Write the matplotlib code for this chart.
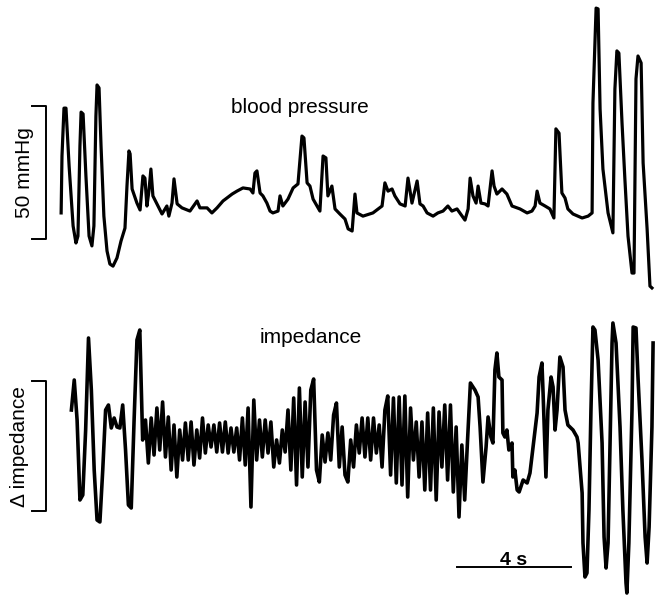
import numpy as np
import matplotlib
matplotlib.use("Agg")
import matplotlib.pyplot as plt

plt.rcParams['font.family'] = ['Liberation Sans', 'DejaVu Sans']

# blood pressure trace (time in s, pressure in mmHg)
bp_t = [0.04, 0.07, 0.14, 0.21, 0.32, 0.46, 0.56, 0.63, 0.70, 0.74, 0.81, 0.91, 1.02, 1.12, 1.19,
        1.26, 1.30, 1.37, 1.44, 1.54, 1.65, 1.75, 1.86, 2.00, 2.14, 2.28, 2.35, 2.42, 2.46, 2.53,
        2.70, 2.81, 2.91, 2.98, 3.05, 3.12, 3.19, 3.26, 3.44, 3.58, 3.75, 3.82, 3.93, 4.00, 4.11,
        4.28, 4.56, 4.81, 4.91, 5.16, 5.33, 5.51, 5.72, 6.04, 6.21, 6.42, 6.67, 6.77, 6.84, 6.91,
        7.02, 7.12, 7.26, 7.37, 7.47, 7.65, 7.72, 7.82, 8.00, 8.18, 8.35, 8.49, 8.56, 8.63, 8.67,
        8.77, 8.88, 9.02, 9.12, 9.23, 9.33, 9.40, 9.54, 9.65, 9.82, 10.00, 10.11, 10.25, 10.35,
        10.42, 10.63, 10.98, 11.30, 11.40, 11.51, 11.65, 11.75, 11.93, 12.11, 12.21, 12.35, 12.53,
        12.63, 12.74, 12.88, 13.09, 13.26, 13.44, 13.61, 13.75, 13.93, 14.11, 14.21, 14.32, 14.39,
        14.49, 14.60, 14.67, 14.77, 14.91, 15.02, 15.16, 15.23, 15.33, 15.51, 15.68, 15.86, 16.14,
        16.39, 16.56, 16.67, 16.74, 16.84, 17.02, 17.19, 17.33, 17.40, 17.51, 17.61, 17.72, 17.82,
        18.00, 18.32, 18.53, 18.67, 18.70, 18.81, 18.88, 18.95, 19.05, 19.23, 19.40, 19.47, 19.54,
        19.61, 19.72, 19.82, 19.93, 20.07, 20.14, 20.21, 20.28, 20.39, 20.46, 20.60, 20.70, 20.77]
bp_p = [49.8, 71.2, 89.2, 89.2, 67.4, 44.9, 38.5, 41.1, 75.0, 87.7, 87.0, 63.7, 41.1, 37.4, 44.9,
        86.2, 97.9, 96.8, 75.0, 48.6, 35.5, 30.6, 29.8, 32.9, 39.2, 44.1, 59.9, 73.1, 72.0, 58.8,
        53.5, 50.9, 63.7, 62.9, 52.4, 58.0, 66.3, 56.2, 52.4, 49.4, 52.4, 48.6, 53.5, 62.6, 53.2,
        51.7, 50.5, 54.3, 51.7, 51.7, 49.8, 51.7, 54.3, 56.9, 58.0, 59.2, 58.8, 57.3, 64.8, 65.6,
        57.3, 56.2, 53.5, 50.5, 49.8, 50.5, 56.2, 52.4, 55.0, 59.2, 60.7, 78.7, 78.0, 67.4, 61.1,
        59.9, 55.0, 52.4, 50.5, 71.2, 70.5, 56.2, 59.9, 51.3, 49.4, 47.5, 43.8, 43.0, 56.9,
        49.8, 48.6, 49.8, 52.4, 61.1, 58.0, 58.8, 56.2, 53.2, 52.4, 62.9, 53.5, 61.8,
        53.2, 52.4, 49.8, 48.6, 49.8, 50.5, 52.4, 50.5, 51.3, 48.6, 47.1, 51.3, 62.9,
        56.2, 53.5, 59.9, 53.5, 53.2, 52.4, 65.6, 59.9, 56.9, 58.8, 56.9, 52.4, 51.3,
        49.8, 50.5, 52.4, 58.0, 53.5, 52.4, 51.3, 47.9, 81.4, 79.8, 57.3, 55.4, 51.3,
        49.4, 47.9, 48.6, 49.8, 91.1, 126.8, 126.5, 88.9, 66.3, 49.8, 42.3, 96.4, 110.7,
        109.9, 83.6, 62.6, 41.1, 27.2, 27.2, 100.2, 108.8, 106.2, 68.6, 43.8, 22.3, 21.6]

# impedance trace, sampled every 0.1 s from 0.4 s to 14.4 s (arbitrary units)
imp_t0 = 0.4
imp_dt = 0.1
imp_v = [1.01, 1.31, 0.91, 0.11, 0.16, 0.81, 1.73, 1.21, 0.41, -0.09, -0.11, 0.41, 1.01, 1.06,
         0.83, 0.93, 0.84, 0.83, 1.06, 0.61, 0.06, 0.03, 0.91, 1.71, 1.81, 0.71, 0.91, 0.48,
         0.93, 0.56, 1.03, 0.61, 1.09, 0.54, 0.94, 0.41, 0.86, 0.34, 0.81, 0.51, 0.88, 0.51,
         0.89, 0.46, 0.81, 0.53, 0.93, 0.58, 0.86, 0.64, 0.86, 0.59, 0.88, 0.59, 0.89, 0.58,
         0.83, 0.59, 0.83, 0.51, 0.93, 0.46, 1.03, 0.04, 1.11, 0.51, 0.91, 0.54, 0.91, 0.58,
         0.89, 0.44, 0.71, 0.48, 0.81, 0.59, 1.01, 0.41, 1.13, 0.26, 1.23, 0.34, 1.09, 0.44,
         1.21, 1.32, 0.41, 0.29, 0.76, 0.49, 0.78, 0.51, 0.96, 1.08, 0.44, 0.84, 0.36, 0.29,
         0.71, 0.44, 0.86, 0.58, 0.93, 0.54, 0.93, 0.51, 0.93, 0.58, 0.86, 0.44, 1.01, 1.15,
         0.36, 1.13, 0.28, 1.14, 0.26, 1.15, 0.14, 1.03, 0.51, 0.89, 0.34, 0.89, 0.21, 0.98,
         0.21, 1.03, 0.11, 0.99, 0.44, 1.06, 0.31, 1.06, 0.19, 0.84, -0.06, 0.66, 0.11, 0.71,
         1.28]
# impedance trace after 14.4 s
imp_end_t = [14.56, 14.67, 14.74, 14.84, 14.95, 15.02, 15.12, 15.19, 15.26, 15.33, 15.40, 15.51,
             15.54, 15.61, 15.68, 15.75, 15.86, 15.89, 15.96, 16.04, 16.11, 16.25, 16.39, 16.49,
             16.60, 16.74, 16.81, 16.91, 16.95, 17.05, 17.12, 17.23, 17.30, 17.37, 17.44, 17.54,
             17.65, 17.72, 17.82, 18.00, 18.14, 18.18, 18.32, 18.35, 18.42, 18.49, 18.56, 18.63,
             18.70, 18.77, 18.88, 19.02, 19.09, 19.16, 19.23, 19.30, 19.37, 19.40, 19.51, 19.65,
             19.75, 19.86, 19.89, 19.96, 20.07, 20.11, 20.21, 20.28, 20.42, 20.53, 20.60, 20.67,
             20.77, 20.81]
imp_end_v = [1.21, 1.14, 0.84, 0.29, 0.64, 0.94, 0.74, 0.68, 1.41, 1.58, 1.34, 1.31,
             0.78, 0.74, 0.81, 0.61, 0.68, 0.34, 0.41, 0.21, 0.19, 0.31, 0.28, 0.38,
             0.64, 0.98, 1.34, 1.48, 1.18, 0.34, 1.01, 1.34, 1.24, 0.81, 1.01, 1.54,
             1.44, 1.01, 0.86, 0.81, 0.74, 0.68, 0.18, -0.32, -0.66, -0.62, 0.01, 1.01,
             1.84, 1.81, 1.51, 0.68, -0.26, -0.57, -0.32, 0.68, 1.68, 1.88, 1.68, 0.84,
             0.01, -0.72, -0.82, -0.32, 1.01, 1.84, 1.83, 1.34, 0.51, -0.26, -0.52, -0.16,
             0.84, 1.68]

imp_t = np.concatenate([imp_t0 + imp_dt * np.arange(len(imp_v)), imp_end_t])
imp_all = np.concatenate([imp_v, imp_end_v])

fig = plt.figure(figsize=(6.55, 5.96), dpi=100)
ax1 = fig.add_axes([0, 300 / 596, 1, 300 / 596])
ax2 = fig.add_axes([0, 0, 1, 296 / 596])

xlim = (-2.105, 20.877)
for ax in (ax1, ax2):
    ax.set_xlim(*xlim)
    ax.axis('off')
ax1.set_ylim(18.57, 131.35)
ax2.set_ylim(-0.85, 2.11)

ax1.plot(bp_t, bp_p, color='black', lw=2.3, solid_joinstyle='round')
ax2.plot(imp_t, imp_all, color='black', lw=2.6, solid_joinstyle='round')

# 50 mmHg scale bar
ax1.plot([-0.98, -0.49, -0.49, -0.98], [90, 90, 40, 40], color='black', lw=1.4)
ax1.text(-0.91, 64.8, '50 mmHg', rotation=90, ha='right', va='center', fontsize=15)
ax1.text(8.42, 87.4, 'blood pressure', ha='center', va='baseline', fontsize=15)

# impedance scale bar
ax2.plot([-0.98, -0.49, -0.49, -0.98], [1.3, 1.3, 0.0, 0.0], color='black', lw=1.4)
ax2.text(-1.09, 0.64, '\u0394 impedance', rotation=90, ha='right', va='center', fontsize=15)
ax2.text(8.81, 1.68, 'impedance', ha='center', va='baseline', fontsize=15)

# 4 s time bar
ax2.plot([13.93, 17.93], [-0.56, -0.56], color='black', lw=1.4)
ax2.text(15.93, -0.54, '4 s', ha='center', va='baseline', fontsize=14, fontweight='bold')

fig.savefig('out.png', dpi=100)
